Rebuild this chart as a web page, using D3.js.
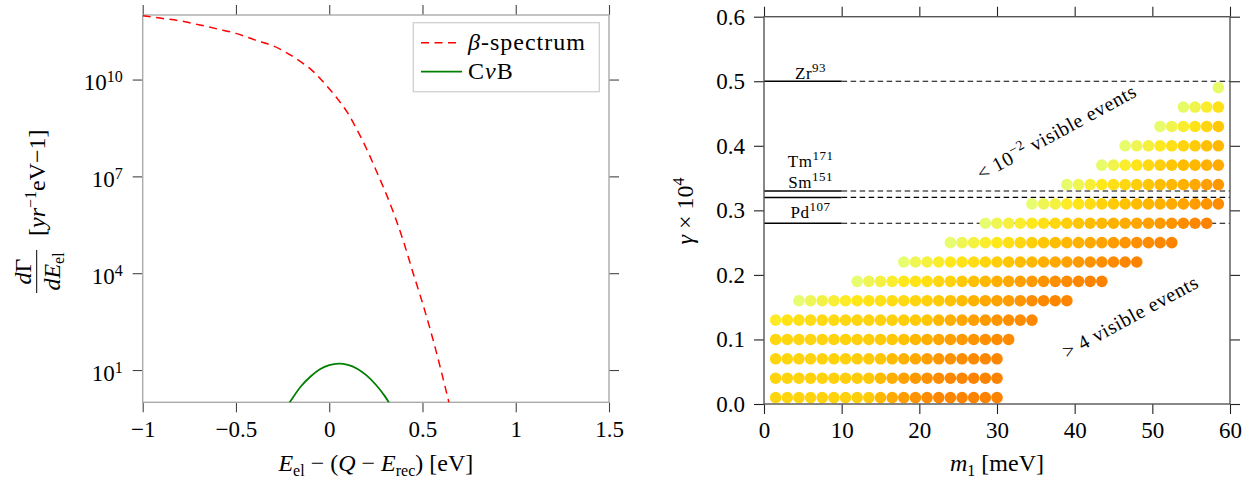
<!DOCTYPE html>
<html>
<head>
<meta charset="utf-8">
<title>beta spectrum endpoint and capture rate</title>
<script src="https://cdn.jsdelivr.net/npm/d3@7"></script>
<style>
body { margin: 0; background: #fff; }
svg text { font-family: "Liberation Serif", "DejaVu Serif", serif; fill: #000; }
.ax text { font-size: 23px; }
.it { font-style: italic; }
</style>
</head>
<body>
<svg id="chart" width="1256" height="483"></svg>
<script>
// ---- left panel: spectrum near the endpoint ----
const betaE = [-1, -0.9, -0.8, -0.7, -0.6, -0.5, -0.4, -0.3, -0.2, -0.1, -0.05, 0, 0.05, 0.1, 0.15,
  0.2, 0.25, 0.3, 0.35, 0.4, 0.45, 0.5, 0.55, 0.6, 0.65];
const betaRate = [9.5e11, 7.9e11, 6.6e11, 5.0e11, 3.7e11, 2.7e11, 1.7e11, 1.1e11, 5.4e10, 2.1e10,
  1.1e10, 5.2e9, 2.3e9, 9.1e8, 2.7e8, 7.2e7, 1.6e7, 3.4e6, 6.2e5, 8.9e4, 1.0e4, 1.2e3, 1.2e2, 9.5, 0.63];
const cnbE = [-0.25, -0.2, -0.15, -0.1, -0.05, 0, 0.05, 0.1, 0.15, 0.2, 0.25, 0.3, 0.35];
const cnbRate = [0.43, 1.26, 3.2, 6.3, 10.5, 14.1, 15.8, 14.5, 11.0, 6.8, 3.5, 1.5, 0.49];
const energyTicks = [-1, -0.5, 0, 0.5, 1, 1.5];
const rateTicks = [1e1, 1e4, 1e7, 1e10];

// ---- right panel: events grid ----
const m1Grid = [1.5, 3, 4.5, 6, 7.5, 9, 10.5, 12, 13.5, 15, 16.5, 18, 19.5, 21, 22.5, 24, 25.5, 27,
  28.5, 30, 31.5, 33, 34.5, 36, 37.5, 39, 40.5, 42, 43.5, 45, 46.5, 48, 49.5, 51, 52.5, 54, 55.5, 57, 58.5];
const gammaRows = [0.01, 0.04, 0.07, 0.10, 0.13, 0.16, 0.19, 0.22, 0.25, 0.28, 0.31, 0.34, 0.37, 0.40, 0.43, 0.46, 0.49];
const rowFirst = [0, 0, 0, 0, 0, 2, 7, 11, 15, 18, 22, 25, 28, 30, 33, 35, 38];
const rowShade = [
  [.36,.36,.37,.37,.38,.38,.39,.40,.42,.55,.66,.78,.85,.90,.93,.95,.96,.97,.98,.98],
  [.37,.37,.37,.38,.38,.39,.40,.41,.43,.52,.62,.74,.80,.86,.90,.93,.95,.96,.97,.97],
  [.36,.36,.37,.37,.38,.38,.39,.40,.42,.45,.52,.60,.68,.76,.82,.86,.90,.92,.94,.95],
  [.35,.35,.36,.36,.37,.37,.38,.39,.40,.42,.44,.47,.55,.62,.70,.76,.80,.84,.87,.90,.92],
  [.22,.28,.30,.32,.33,.34,.35,.36,.37,.38,.39,.40,.42,.45,.55,.62,.70,.76,.80,.84,.87,.90,.93],
  [.03,.09,.14,.18,.22,.26,.28,.30,.32,.34,.36,.39,.42,.47,.52,.60,.68,.73,.78,.84,.90,.93,.95,.96],
  [.03,.10,.15,.20,.25,.28,.31,.35,.38,.43,.48,.55,.62,.68,.75,.80,.85,.88,.92,.94,.96,.97],
  [.03,.10,.15,.20,.25,.28,.32,.36,.40,.45,.50,.55,.62,.68,.74,.80,.85,.89,.92,.95,.97],
  [.03,.10,.15,.20,.25,.30,.35,.40,.45,.50,.55,.60,.66,.72,.78,.83,.87,.90,.93,.96],
  [.03,.10,.15,.20,.25,.30,.35,.40,.45,.50,.55,.60,.65,.70,.75,.80,.85,.90,.94,.97],
  [.03,.10,.15,.22,.27,.32,.38,.42,.47,.52,.56,.60,.66,.72,.78,.84,.90],
  [.04,.10,.18,.25,.30,.35,.40,.45,.50,.55,.60,.68,.75,.82],
  [.04,.12,.20,.27,.33,.39,.45,.50,.55,.60,.66],
  [.04,.10,.16,.24,.30,.36,.42,.48,.55],
  [.04,.12,.20,.28,.36,.44],
  [.05,.12,.20,.30],
  [.05]
];
const isoName = ["Zr", "Tm", "Sm", "Pd"];
const isoMass = ["93", "171", "151", "107"];
const isoGamma = [0.50, 0.33, 0.32, 0.28];
const isoLabelGamma = [0.504, 0.367, 0.334, 0.288];
const m1Ticks = [0, 10, 20, 30, 40, 50, 60];
const gammaTicks = [0, 0.1, 0.2, 0.3, 0.4, 0.5, 0.6];

const svg = d3.select("#chart");
svg.append("rect").attr("width", 1256).attr("height", 483).attr("fill", "#fff");

// ================= left panel =================
const xL = d3.scaleLinear().domain([-1, 1.5]).range([142.7, 609]);
const yL = d3.scaleLog().domain([1, 1e12]).range([402.3, 15]);

svg.append("clipPath").attr("id", "clipL").append("rect")
  .attr("x", xL(-1)).attr("y", yL(1e12)).attr("width", xL(1.5) - xL(-1)).attr("height", yL(1) - yL(1e12));

function tidy(g, col) {
  g.select(".domain").remove();
  g.selectAll(".tick line").attr("stroke", col).attr("stroke-width", 1.1);
}

svg.append("g").attr("class", "ax").attr("transform", `translate(0,${yL(1)})`)
  .call(d3.axisBottom(xL).tickValues(energyTicks).tickSize(10).tickPadding(8).tickFormat(d3.format("~g")))
  .call(g => tidy(g, "#444"));
svg.append("g").attr("transform", `translate(0,${yL(1e12)})`)
  .call(d3.axisTop(xL).tickValues(energyTicks).tickSize(10).tickFormat(""))
  .call(g => tidy(g, "#444"));
svg.append("g").attr("class", "ax").attr("transform", `translate(${xL(-1)},0)`)
  .call(d3.axisLeft(yL).tickValues(rateTicks).tickSize(10).tickPadding(10))
  .call(g => tidy(g, "#444"))
  .call(g => g.selectAll(".tick text").attr("dy", "0.45em").text(null).each(function(d) {
    const t = d3.select(this);
    t.append("tspan").text("10");
    t.append("tspan").attr("dy", -8).style("font-size", "16px").text(Math.round(Math.log10(d)));
  }));
svg.append("g").attr("transform", `translate(${xL(1.5)},0)`)
  .call(d3.axisRight(yL).tickValues(rateTicks).tickSize(10).tickFormat(""))
  .call(g => tidy(g, "#444"));

svg.append("rect")
  .attr("x", xL(-1)).attr("y", yL(1e12)).attr("width", xL(1.5) - xL(-1)).attr("height", yL(1) - yL(1e12))
  .attr("fill", "none").attr("stroke", "#aaa").attr("stroke-width", 1.4);

const lineL = d3.line().x(d => xL(d[0])).y(d => yL(d[1])).curve(d3.curveCatmullRom.alpha(0.5));
const curves = svg.append("g").attr("clip-path", "url(#clipL)");
curves.append("path").datum(d3.zip(betaE, betaRate)).attr("d", lineL)
  .attr("fill", "none").attr("stroke", "#ff0000").attr("stroke-width", 1.5).attr("stroke-dasharray", "8,5.5");
curves.append("path").datum(d3.zip(cnbE, cnbRate)).attr("d", lineL)
  .attr("fill", "none").attr("stroke", "#008000").attr("stroke-width", 1.8);

// legend
const leg = svg.append("g");
leg.append("rect").attr("x", 413.3).attr("y", 22.7).attr("width", 186).attr("height", 69)
  .attr("fill", "#fff").attr("stroke", "#d0d0d0").attr("stroke-width", 1.3);
leg.append("line").attr("x1", 421).attr("x2", 460).attr("y1", 42.7).attr("y2", 42.7)
  .attr("stroke", "#ff0000").attr("stroke-width", 1.5).attr("stroke-dasharray", "8,5.5");
leg.append("line").attr("x1", 421).attr("x2", 462).attr("y1", 71.7).attr("y2", 71.7)
  .attr("stroke", "#008000").attr("stroke-width", 1.8);
const l1 = leg.append("text").attr("x", 468).attr("y", 49.5).style("font-size", "24px").style("letter-spacing", "1px");
l1.append("tspan").attr("class", "it").text("β");
l1.append("tspan").text("-spectrum");
const l2 = leg.append("text").attr("x", 468).attr("y", 79).style("font-size", "24px").style("letter-spacing", "1px");
l2.append("tspan").text("C");
l2.append("tspan").attr("class", "it").text("ν");
l2.append("tspan").text("B");

// x title
const tx = svg.append("text").attr("x", (xL(-1) + xL(1.5)) / 2).attr("y", 471)
  .attr("text-anchor", "middle").style("font-size", "24px");
tx.append("tspan").attr("class", "it").text("E");
tx.append("tspan").attr("dy", 5).style("font-size", "16px").text("el");
tx.append("tspan").attr("dy", -5).text(" − (");
tx.append("tspan").attr("class", "it").text("Q");
tx.append("tspan").text(" − ");
tx.append("tspan").attr("class", "it").text("E");
tx.append("tspan").attr("dy", 5).style("font-size", "16px").text("rec");
tx.append("tspan").attr("dy", -5).text(")  [eV]");

// y title (rotated)
const ty = svg.append("g").attr("transform", "translate(0,208) rotate(-90)");
ty.append("line").attr("x1", -85).attr("x2", -42).attr("y1", 36.7).attr("y2", 36.7)
  .attr("stroke", "#000").attr("stroke-width", 1);
const num = ty.append("text").attr("x", -63.5).attr("y", 31).attr("text-anchor", "middle").style("font-size", "24px");
num.append("tspan").attr("class", "it").text("d");
num.append("tspan").text("Γ");
const den = ty.append("text").attr("x", -63.5).attr("y", 60).attr("text-anchor", "middle").style("font-size", "24px");
den.append("tspan").attr("class", "it").text("dE");
den.append("tspan").attr("dy", 4).style("font-size", "16px").text("el");
const unit = ty.append("text").attr("x", -28).attr("y", 45).style("font-size", "24px");
unit.append("tspan").text("[");
unit.append("tspan").attr("class", "it").text("yr");
unit.append("tspan").attr("dy", -9).style("font-size", "16px").text("−1");
unit.append("tspan").attr("dy", 9).text("eV−1]");

// ================= right panel =================
const xR = d3.scaleLinear().domain([0, 60]).range([764, 1230]);
const yR = d3.scaleLinear().domain([0, 0.6]).range([404, 16.7]);

svg.append("g").attr("class", "ax").attr("transform", `translate(0,${yR(0)})`)
  .call(d3.axisBottom(xR).tickValues(m1Ticks).tickSize(10).tickPadding(8))
  .call(g => tidy(g, "#222"));
svg.append("g").attr("transform", `translate(0,${yR(0.6)})`)
  .call(d3.axisTop(xR).tickValues(m1Ticks).tickSize(10).tickFormat(""))
  .call(g => tidy(g, "#222"));
svg.append("g").attr("class", "ax").attr("transform", `translate(${xR(0)},0)`)
  .call(d3.axisLeft(yR).tickValues(gammaTicks).tickSize(10).tickPadding(9).tickFormat(d3.format(".1f")))
  .call(g => tidy(g, "#222"));
svg.append("g").attr("transform", `translate(${xR(60)},0)`)
  .call(d3.axisRight(yR).tickValues(gammaTicks).tickSize(10).tickFormat(""))
  .call(g => tidy(g, "#222"));

// isotope lines: solid up to 10 meV, dashed beyond
const iso = svg.append("g");
isoGamma.forEach((g, i) => {
  iso.append("line").attr("x1", xR(0)).attr("x2", xR(10)).attr("y1", yR(g)).attr("y2", yR(g))
    .attr("stroke", "#000").attr("stroke-width", 1.5);
  iso.append("line").attr("x1", xR(10)).attr("x2", xR(60)).attr("y1", yR(g)).attr("y2", yR(g))
    .attr("stroke", "#000").attr("stroke-width", 1.2).attr("stroke-dasharray", "5.5,3.5");
  const t = iso.append("text").attr("x", xR(6)).attr("y", yR(isoLabelGamma[i]))
    .attr("text-anchor", "middle").style("font-size", "17px").style("letter-spacing", "0.5px");
  t.append("tspan").text(isoName[i]);
  t.append("tspan").attr("dy", -7).style("font-size", "13px").text(isoMass[i]);
});

const wistia = d3.scaleLinear().domain([0, 0.25, 0.5, 0.75, 1])
  .range(["#e4ff7a", "#ffe81a", "#ffbd00", "#ffa000", "#fc7f00"]);
const dots = [];
gammaRows.forEach((g, i) => rowShade[i].forEach((s, j) =>
  dots.push({ m1: m1Grid[rowFirst[i] + j], gamma: g, shade: s })));
svg.append("g").selectAll("circle").data(dots).join("circle")
  .attr("cx", d => xR(d.m1)).attr("cy", d => yR(d.gamma)).attr("r", 5.8)
  .attr("fill", d => wistia(d.shade));

svg.append("rect")
  .attr("x", xR(0)).attr("y", yR(0.6)).attr("width", xR(60) - xR(0)).attr("height", yR(0) - yR(0.6))
  .attr("fill", "none").attr("stroke", "#555").attr("stroke-width", 1.4);

// region annotations
const a1 = svg.append("text").attr("transform", `translate(${xR(28.0)},${yR(0.346)}) rotate(-28.5)`)
  .style("font-size", "20px").style("letter-spacing", "0.6px");
a1.append("tspan").text("<  10");
a1.append("tspan").attr("dy", -8).style("font-size", "14px").text("−2");
a1.append("tspan").attr("dy", 8).text("  visible events");
const a2 = svg.append("text").attr("transform", `translate(${xR(39.0)},${yR(0.07)}) rotate(-28.5)`)
  .style("font-size", "20px").style("letter-spacing", "0.6px");
a2.append("tspan").text(">  4  visible events");

// titles
const txr = svg.append("text").attr("x", (xR(0) + xR(60)) / 2).attr("y", 471)
  .attr("text-anchor", "middle").style("font-size", "24px");
txr.append("tspan").attr("class", "it").text("m");
txr.append("tspan").attr("dy", 5).style("font-size", "16px").text("1");
txr.append("tspan").attr("dy", -5).text("  [meV]");

const tyr = svg.append("g").attr("transform", "translate(0,211) rotate(-90)");
const tyrT = tyr.append("text").attr("x", 0).attr("y", 693).attr("text-anchor", "middle").style("font-size", "24px");
tyrT.append("tspan").attr("class", "it").text("γ");
tyrT.append("tspan").text(" × 10");
tyrT.append("tspan").attr("dy", -9).style("font-size", "16px").text("4");
</script>
</body>
</html>
